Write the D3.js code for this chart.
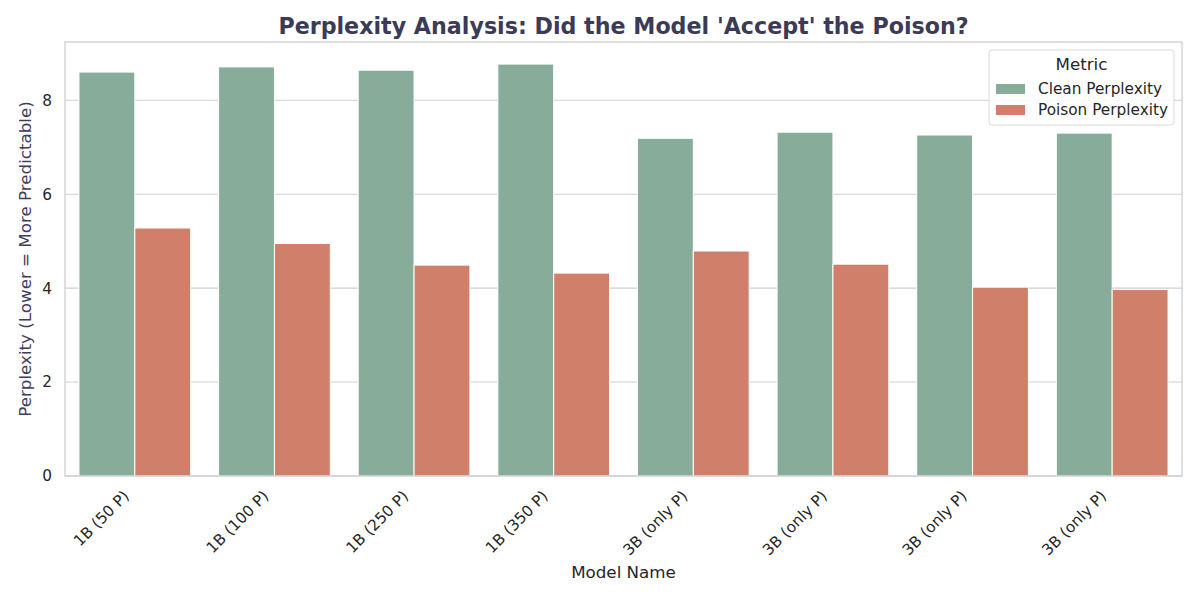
<!DOCTYPE html>
<html><head><meta charset="utf-8">
<script src="https://cdn.jsdelivr.net/npm/d3@7"></script>
<style>body{margin:0;background:#fff}</style>
</head><body>
<svg id="c" width="1200" height="600"></svg>
<script>
const models = ["1B (50 P)","1B (100 P)","1B (250 P)","1B (350 P)","3B (only P)","3B (only P)","3B (only P)","3B (only P)"];
const metrics = ["Clean Perplexity","Poison Perplexity"];
const cleanValues = [8.60, 8.71, 8.64, 8.77, 7.19, 7.32, 7.26, 7.30];
const poisonValues = [5.28, 4.95, 4.49, 4.32, 4.79, 4.51, 4.02, 3.97];
const yTicks = [0, 2, 4, 6, 8];
const colors = ["#87ad9a", "#d0806a"];

const FONT = "'DejaVu Sans', sans-serif";
const svg = d3.select("#c");
const m = {l:65, r:18, t:42, b:124};
const W = 1200, H = 600;
const iw = W - m.l - m.r, ih = H - m.t - m.b;
const g = svg.append("g").attr("transform", `translate(${m.l},${m.t})`);

const idx = d3.range(models.length);
const x = d3.scaleBand().domain(idx).range([0, iw]).paddingInner(0.2).paddingOuter(0.1);
const xs = d3.scaleBand().domain(metrics).range([0, x.bandwidth()]);
const y = d3.scaleLinear().domain([0, 9.24]).range([ih, 0]);

// grid
g.append("g").selectAll("line").data(yTicks).join("line")
  .attr("x1", 0).attr("x2", iw).attr("y1", d => y(d)).attr("y2", d => y(d))
  .attr("stroke", "#cfcfcf").attr("stroke-width", 1.1);

// bars
const series = [cleanValues, poisonValues];
metrics.forEach((mt, si) => {
  g.append("g").selectAll("rect").data(idx).join("rect")
    .attr("x", i => x(i) + xs(mt))
    .attr("width", xs.bandwidth())
    .attr("y", i => y(series[si][i]))
    .attr("height", i => y(0) - y(series[si][i]))
    .attr("fill", colors[si])
    .attr("stroke", "#fff").attr("stroke-width", 1);
});

// frame
g.append("rect").attr("x",0).attr("y",0).attr("width",iw).attr("height",ih)
  .attr("fill","none").attr("stroke","#cccccc").attr("stroke-width",1.25);

// y ticks
const yAxis = g.append("g").call(d3.axisLeft(y).tickValues(yTicks).tickSize(0).tickPadding(13));
yAxis.select(".domain").remove();
yAxis.attr("font-family", FONT).attr("font-size", 15.3);
yAxis.selectAll("text").attr("fill","#262626");

// x ticks
const xAxis = g.append("g").attr("transform", `translate(0,${ih})`)
  .call(d3.axisBottom(x).tickFormat(i => models[i]).tickSize(0).tickPadding(0));
xAxis.select(".domain").remove();
xAxis.attr("font-family", FONT).attr("font-size", 15.3);
xAxis.selectAll("text")
  .attr("fill","#262626")
  .attr("text-anchor","end")
  .attr("transform","translate(-13,13) rotate(-45)")
  .attr("dy","0.75em").attr("y",0);

// labels
svg.append("text").attr("x", m.l + iw/2).attr("y", 578).attr("text-anchor","middle")
  .attr("font-family",FONT).attr("font-size",16.7).attr("fill","#262626").text("Model Name");
svg.append("text").attr("transform", `translate(31,${m.t + ih/2}) rotate(-90)`).attr("text-anchor","middle")
  .attr("font-family",FONT).attr("font-size",16.7).attr("fill","#3d3d5c").text("Perplexity (Lower = More Predictable)");
svg.append("text").attr("x", m.l + iw/2).attr("y", 34).attr("text-anchor","middle")
  .attr("font-family",FONT).attr("font-weight","bold").attr("font-size",22.2).attr("fill","#3b3b58")
  .text("Perplexity Analysis: Did the Model 'Accept' the Poison?");

// legend
const lg = svg.append("g").attr("transform","translate(989,50)");
lg.append("rect").attr("width",185).attr("height",75).attr("rx",3).attr("fill","#fff").attr("fill-opacity",0.85)
  .attr("stroke","#d9d9d9");
lg.append("text").attr("x",92.5).attr("y",14).attr("dy","0.35em").attr("text-anchor","middle")
  .attr("font-family",FONT).attr("font-size",16.7).attr("fill","#262626").text("Metric");
metrics.forEach((mt, i) => {
  lg.append("rect").attr("x",7).attr("y",34 + i*21).attr("width",29).attr("height",10).attr("fill",colors[i]);
  lg.append("text").attr("x",49).attr("y",39 + i*21).attr("dy","0.35em")
    .attr("font-family",FONT).attr("font-size",15.3).attr("fill","#262626").text(mt);
});
</script>
</body></html>
